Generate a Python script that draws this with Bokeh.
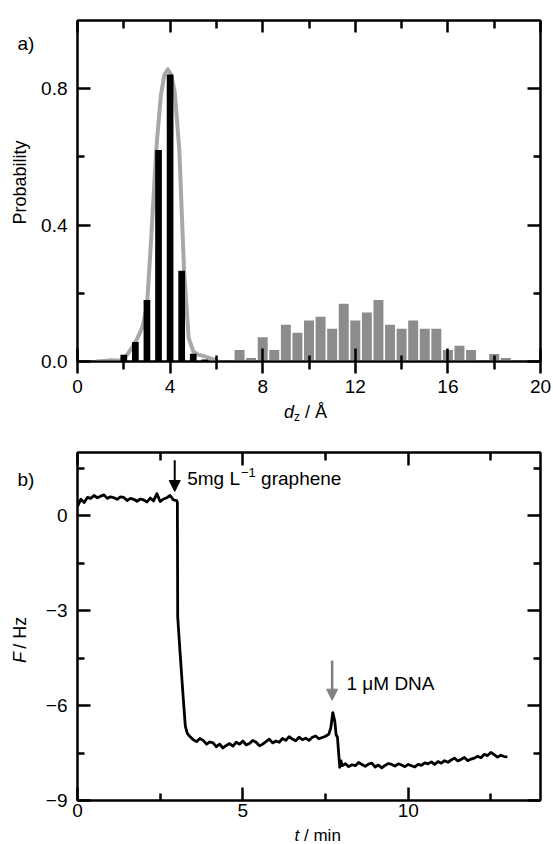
from math import pi
from bokeh.plotting import figure
from bokeh.layouts import column, row
from bokeh.models import FixedTicker, LinearAxis, Label, Arrow, NormalHead, Range1d
from bokeh.embed import file_html
from bokeh.resources import INLINE

FONT = "Liberation Sans"

# ---------------- panel a) data ----------------
black_x = [2.0, 2.5, 3.0, 3.5, 4.0, 4.5, 5.0, 5.5]
black_p = [0.02, 0.057, 0.18, 0.62, 0.842, 0.266, 0.023, 0.006]

gray_x = [7.0, 7.5, 8.0, 8.5, 9.0, 9.5, 10.0, 10.5, 11.0, 11.5, 12.0, 12.5,
          13.0, 13.5, 14.0, 14.5, 15.0, 15.5, 16.0, 16.5, 17.0, 18.0, 18.5]
gray_p = [0.034, 0.010, 0.071, 0.034, 0.108, 0.084, 0.120, 0.131, 0.096, 0.169, 0.120, 0.144,
          0.180, 0.108, 0.096, 0.120, 0.096, 0.096, 0.034, 0.046, 0.034, 0.022, 0.010]

fit_x = [0.8, 1.2, 1.5, 1.8, 2.0, 2.2, 2.4, 2.6, 2.8, 3.0, 3.2, 3.4, 3.6, 3.75, 3.9,
         4.05, 4.2, 4.4, 4.6, 4.8, 5.0, 5.2, 5.5, 5.8, 6.1]
fit_p = [0.0, 0.002, 0.004, 0.002, 0.008, 0.025, 0.045, 0.07, 0.1, 0.16, 0.38, 0.62, 0.78, 0.84, 0.857,
         0.84, 0.79, 0.62, 0.27, 0.07, 0.03, 0.02, 0.015, 0.008, 0.0]

a_xticks = [0, 4, 8, 12, 16, 20]
a_xminor = [2, 6, 10, 14, 18]
a_yticks = [0.0, 0.4, 0.8]
a_yminor = [0.2, 0.6]
a_ylabels = {0: "0.0", 0.4: "0.4", 0.8: "0.8"}

# ---------------- panel b) data ----------------
t_min = [0.0, 0.1, 0.2, 0.3, 0.4, 0.5, 0.6, 0.7, 0.8, 0.9, 1.0, 1.1, 1.2, 1.3, 1.4, 1.5,
         1.6, 1.7, 1.8, 1.9, 2.0, 2.1, 2.2, 2.3, 2.4, 2.5, 2.6, 2.7, 2.8, 2.9, 3.0, 3.02,
         3.03, 3.1, 3.2, 3.26, 3.32, 3.4,
         3.5, 3.6, 3.7, 3.8, 3.9, 4.0, 4.1, 4.2, 4.3, 4.4, 4.5, 4.6, 4.7, 4.8, 4.9, 5.0,
         5.1, 5.2, 5.3, 5.4, 5.5, 5.6, 5.7, 5.8, 5.9, 6.0, 6.1, 6.2, 6.3, 6.4, 6.5, 6.6,
         6.7, 6.8, 6.9, 7.0, 7.1, 7.2, 7.3, 7.4, 7.5, 7.6,
         7.66, 7.72, 7.78, 7.82, 7.86, 7.9, 7.93, 7.97, 8.0,
         8.1, 8.2, 8.3, 8.4, 8.5, 8.6, 8.7, 8.8, 8.9, 9.0, 9.1, 9.2, 9.3, 9.4, 9.5, 9.6,
         9.7, 9.8, 9.9, 10.0, 10.1, 10.2, 10.3, 10.4, 10.5, 10.6, 10.7, 10.8, 10.9, 11.0,
         11.1, 11.2, 11.3, 11.4, 11.5, 11.6, 11.7, 11.8, 11.9, 12.0, 12.1, 12.2, 12.3, 12.4,
         12.5, 12.6, 12.7, 12.8, 12.9, 13.0]
F_hz = [0.30, 0.52, 0.42, 0.58, 0.55, 0.64, 0.57, 0.62, 0.66, 0.55, 0.60, 0.57, 0.52, 0.60, 0.58, 0.48,
        0.55, 0.52, 0.46, 0.53, 0.50, 0.44, 0.56, 0.47, 0.70, 0.45, 0.53, 0.57, 0.64, 0.50, 0.48, 0.42,
        -3.2, -4.3, -5.8, -6.65, -6.88, -6.98,
        -7.08, -7.14, -7.04, -7.10, -7.22, -7.15, -7.18, -7.30, -7.22, -7.34, -7.26, -7.20, -7.28, -7.16, -7.22, -7.12,
        -7.24, -7.20, -7.10, -7.16, -7.27, -7.22, -7.14, -7.06, -7.18, -7.12, -7.16, -7.04, -7.10, -6.98, -7.06, -7.11,
        -7.00, -7.08, -7.03, -7.10, -7.00, -6.96, -7.05, -7.01, -6.97, -6.90,
        -6.70, -6.22, -6.50, -6.92, -7.00, -7.55, -7.95, -7.75, -7.90,
        -7.84, -7.93, -7.87, -7.90, -7.80, -7.86, -7.92, -7.85, -7.82, -7.94, -7.88, -7.97, -7.89, -7.83, -7.86, -7.91,
        -7.84, -7.88, -7.93, -7.86, -7.90, -7.94, -7.86, -7.89, -7.81, -7.84, -7.78, -7.86, -7.77, -7.82,
        -7.74, -7.79, -7.72, -7.66, -7.75, -7.70, -7.64, -7.74, -7.69, -7.66, -7.60, -7.65, -7.54, -7.58,
        -7.48, -7.55, -7.63, -7.57, -7.61, -7.62]

b_xticks = [0, 5, 10]
b_xminor = [2.5, 7.5, 12.5]
b_yticks = [0, -3, -6, -9]
b_yminor = [1.5, -1.5, -4.5, -7.5]
b_ylabels = {0: "0", -3: "\u22123", -6: "\u22126", -9: "\u22129"}


def cfg_axis(ax, ticks, minor, show, tin, tout, mtin, mtout, standoff=0, overrides=None):
    ax.ticker = FixedTicker(ticks=ticks, minor_ticks=minor)
    ax.axis_line_width = 2
    ax.axis_line_color = "black"
    ax.major_tick_line_width = 2.5
    ax.minor_tick_line_width = 2.5
    ax.major_tick_line_color = "black"
    ax.minor_tick_line_color = "black"
    ax.major_tick_in = tin
    ax.major_tick_out = tout
    ax.minor_tick_in = mtin
    ax.minor_tick_out = mtout
    ax.major_label_text_font = FONT
    ax.major_label_standoff = standoff
    ax.axis_label = None
    if show:
        ax.major_label_text_font_size = "19px"
        ax.major_label_text_color = "black"
    else:
        ax.major_label_text_font_size = "1px"
        ax.major_label_text_color = None
    if overrides:
        ax.major_label_overrides = overrides


def base_fig(h, xr, yr, top, bottom):
    p = figure(width=517, height=h, x_range=xr, y_range=yr,
               output_backend="svg", toolbar_location=None,
               min_border_left=41, min_border_right=13,
               min_border_top=top, min_border_bottom=bottom)
    p.xgrid.visible = False
    p.ygrid.visible = False
    p.outline_line_color = "black"
    p.outline_line_width = 2
    p.background_fill_color = "white"
    p.border_fill_color = "white"
    return p


def strip(w, h, y_top):
    # text strip whose data units are page pixels (y grows downward)
    s = figure(width=w, height=h, x_range=Range1d(0, w), y_range=Range1d(y_top + h, y_top),
               output_backend="svg", toolbar_location=None,
               x_axis_location=None, y_axis_location=None,
               min_border=0, min_border_left=0, min_border_right=0,
               min_border_top=0, min_border_bottom=0)
    s.xgrid.visible = False
    s.ygrid.visible = False
    s.outline_line_color = None
    s.background_fill_color = "white"
    s.border_fill_color = "white"
    return s


def lab(p, x, y, text, size="19px", style="normal", align="left", angle=0, color="black"):
    p.add_layout(Label(x=x, y=y, text=text, text_font=FONT, text_font_size=size,
                       text_font_style=style, text_align=align, text_baseline="middle",
                       angle=angle, text_color=color))


# ---------------- panel a ----------------
p1 = base_fig(401, Range1d(0, 20), Range1d(0, 1.0), 20, 40)
p1.line(fit_x, fit_p, line_color="#a8a8a8", line_width=4, line_join="round")
p1.vbar(x=black_x, top=black_p, width=0.29, bottom=0, fill_color="black", line_color=None)
p1.vbar(x=gray_x, top=gray_p, width=0.43, bottom=0, fill_color="#8c8c8c", line_color=None)

cfg_axis(p1.xaxis[0], a_xticks, a_xminor, True, 13, 12, 6, 8, standoff=6)
cfg_axis(p1.yaxis[0], a_yticks, a_yminor, True, 13, 0, 7, 0, standoff=10, overrides=a_ylabels)
ax_top = LinearAxis()
cfg_axis(ax_top, a_xticks, a_xminor, False, 12, 0, 8, 0)
p1.add_layout(ax_top, "above")
ax_right = LinearAxis()
cfg_axis(ax_right, a_yticks, a_yminor, False, 13, 0, 7, 0)
p1.add_layout(ax_right, "right")

a_left = strip(36, 401, 0)
lab(a_left, 17, 27, "a)")
lab(a_left, 19, 190.5, "Probability", size="18px", align="center", angle=pi / 2)

a_bottom = strip(553, 27, 401)
lab(a_bottom, 283.5, 411, "d", size="18px", style="italic")
lab(a_bottom, 293.5, 416, "z", size="12px")
lab(a_bottom, 304.5, 411, "/ \u00c5", size="18px")

# ---------------- panel b ----------------
p2 = base_fig(397, Range1d(0, 14), Range1d(-9, 2), 24, 25)
p2.line(t_min, F_hz, line_color="black", line_width=2.8, line_join="round")

cfg_axis(p2.xaxis[0], b_xticks, b_xminor, True, 13, 0, 7, 0, standoff=3)
cfg_axis(p2.yaxis[0], b_yticks, b_yminor, True, 13, 0, 7, 0, standoff=10, overrides=b_ylabels)
bx_top = LinearAxis()
cfg_axis(bx_top, b_xticks, b_xminor, False, 13, 0, 8, 0)
p2.add_layout(bx_top, "above")
by_right = LinearAxis()
cfg_axis(by_right, b_yticks, b_yminor, False, 13, 0, 7, 0)
p2.add_layout(by_right, "right")

p2.add_layout(Arrow(end=NormalHead(size=11, fill_color="black", line_color="black"),
                    x_start=2.94, y_start=1.757, x_end=2.94, y_end=0.768,
                    line_color="black", line_width=2))
p2.add_layout(Arrow(end=NormalHead(size=11, fill_color="#808080", line_color="#808080"),
                    x_start=7.70, y_start=-4.574, x_end=7.70, y_end=-5.829,
                    line_color="#808080", line_width=2.5))

lab(p2, 3.317, 1.163, "5mg L")
lab(p2, 4.944, 1.369, "\u22121", size="13px")
lab(p2, 5.552, 1.163, "graphene")
lab(p2, 8.134, -5.30, "1 \u03bcM DNA")

b_left = strip(36, 397, 428)
lab(b_left, 17, 459, "b)")
lab(b_left, 19, 668, "F", size="18px", style="italic", angle=pi / 2)
lab(b_left, 19, 652, "/ Hz", size="18px", angle=pi / 2)

b_bottom = strip(553, 19, 825)
lab(b_bottom, 294, 834.5, "t", size="17px", style="italic")
lab(b_bottom, 303.5, 834.5, "/ min", size="17px")

layout = column(row(a_left, p1, spacing=0), a_bottom,
                row(b_left, p2, spacing=0), b_bottom, spacing=0)
open("out.html", "w").write(file_html(layout, INLINE))
